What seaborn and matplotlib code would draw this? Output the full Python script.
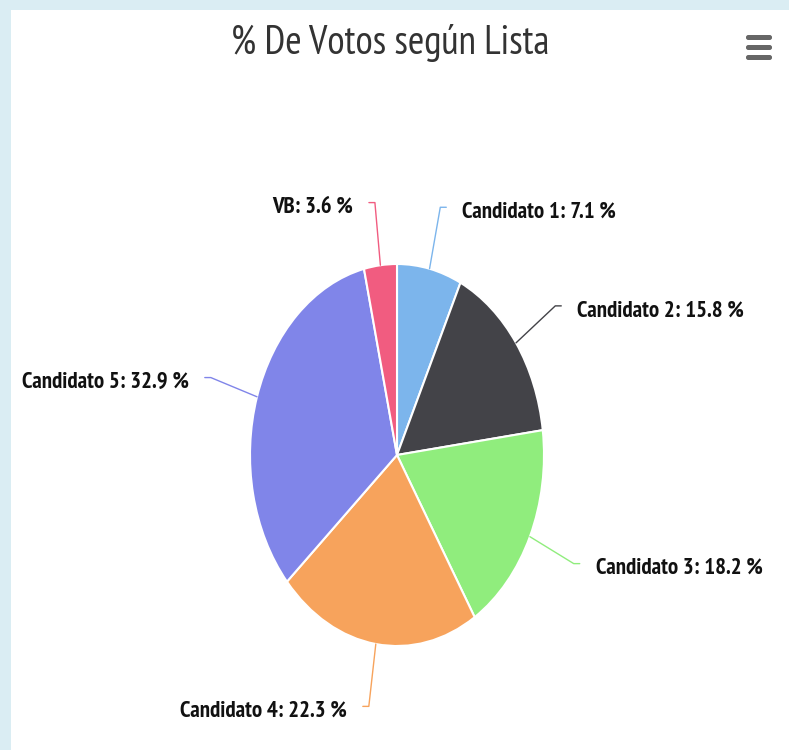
import numpy as np
import matplotlib
matplotlib.use("Agg")
import matplotlib.pyplot as plt
from matplotlib.patches import Rectangle, FancyBboxPatch
import seaborn as sns

categories = ["Candidato 1", "Candidato 2", "Candidato 3", "Candidato 4", "Candidato 5", "VB"]
values = [7.1, 15.8, 18.2, 22.3, 32.9, 3.6]
colors_hex = ["#7cb5ec", "#434348", "#90ed7d", "#f7a35c", "#8085e9", "#f15c80"]
title_text = "% De Votos según Lista"

sns.set_theme(style="white")
plt.rcParams['font.family'] = ['PT Sans Narrow', 'DejaVu Sans']
palette = sns.color_palette(colors_hex)

W, H = 789, 750
fig = plt.figure(figsize=(W / 100, H / 100), dpi=100)
fig.patch.set_facecolor("#daedf3")
fig.patches.append(Rectangle((11 / W, 0), 1, (H - 10) / H, transform=fig.transFigure,
                             facecolor="white", edgecolor="none", zorder=-5))

ax = fig.add_axes([0, 0, 1, 1])
ax.set_facecolor("none")
ax.set_zorder(1)
cx, cy = 397, H - 455
rx, ry = 147, 191

wedges, _ = ax.pie(values, colors=palette, startangle=90, counterclock=False, radius=1,
                   center=(0, 0), wedgeprops=dict(edgecolor="white", linewidth=1.5))
ax.set_xlim(-cx / rx, (W - cx) / rx)
ax.set_ylim(-cy / ry, (H - cy) / ry)
ax.set_aspect("auto")
ax.axis("off")

cum = np.cumsum([0] + values[:-1])
total = sum(values)
for i, (cat, v) in enumerate(zip(categories, values)):
    mid = (cum[i] + v / 2) / total * 2 * np.pi
    dx, dy = np.sin(mid), np.cos(mid)
    x0, y0 = dx * 1.0, dy * 1.0
    x1, y1 = dx * 1.25, dy * 1.25
    x2, y2 = dx * 1.33, dy * 1.33
    side = 1 if dx >= 0 else -1
    hook = 6 / rx
    ax.plot([x0, x1, x2, x2 + side * hook], [y0, y1, y2, y2], color=colors_hex[i], lw=1.0,
            solid_capstyle="round")
    ax.text(x2 + side * (hook + 16 / rx), y2 - 5 / ry, f"{cat}: {v} %",
            ha="left" if side > 0 else "right",
            va="center", fontsize=16.5, fontweight="bold", color="#111111")

fig.text(390 / W, 1 - 43 / H, title_text, ha="center", va="center", fontsize=28.5, color="#333333")

for yy in (37.5, 47.5, 57.5):
    fig.patches.append(FancyBboxPatch((746 / W, 1 - (yy + 2.5) / H), 26 / W, 5 / H,
                                      boxstyle="round,pad=0,rounding_size=0.003",
                                      transform=fig.transFigure, facecolor="#666666",
                                      edgecolor="none", zorder=5))

fig.savefig("out.png", dpi=100, facecolor=fig.get_facecolor())
